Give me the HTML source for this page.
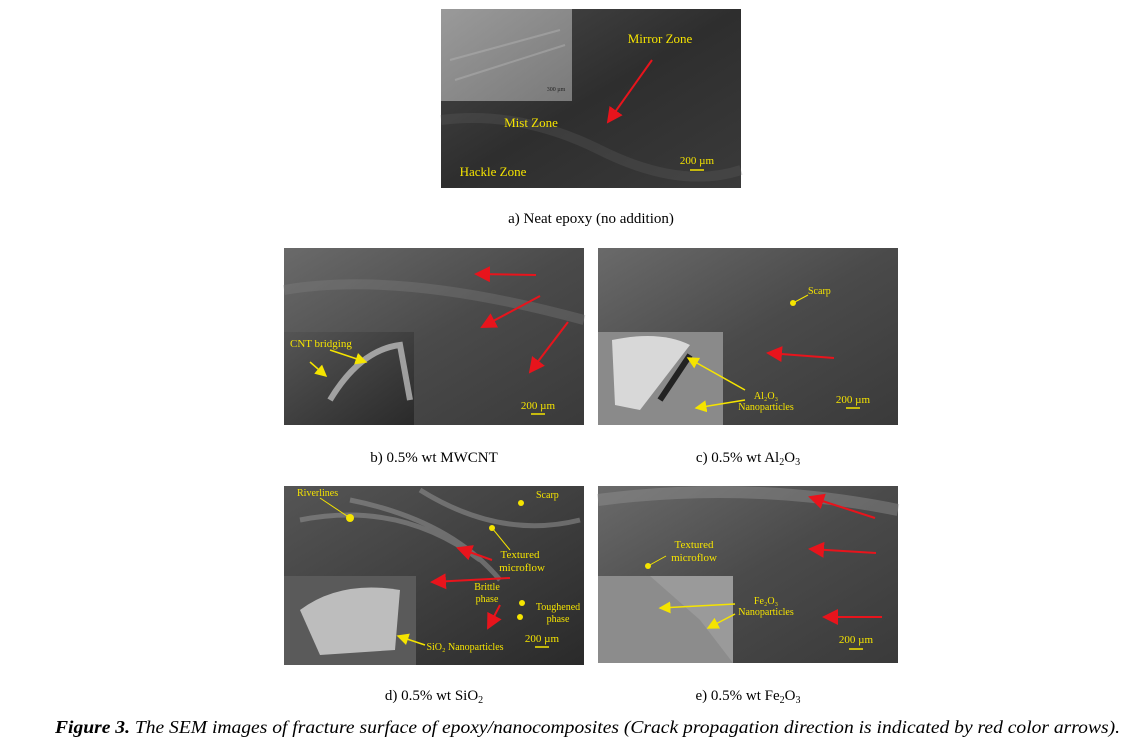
<!DOCTYPE html>
<html><head><meta charset="utf-8"><style>
html,body{margin:0;padding:0;background:#fff;}
svg{display:block;}
text{font-family:"Liberation Serif",serif;}
</style></head><body>
<svg width="1132" height="750" viewBox="0 0 1132 750" xmlns="http://www.w3.org/2000/svg">
<defs>
<linearGradient id="ga" x1="0" y1="0" x2="1" y2="1"><stop offset="0" stop-color="#4a4a4a"/><stop offset="0.5" stop-color="#2e2e2e"/><stop offset="1" stop-color="#3a3a3a"/></linearGradient>
<linearGradient id="gb" x1="0" y1="0" x2="1" y2="1"><stop offset="0" stop-color="#6a6a6a"/><stop offset="0.5" stop-color="#4a4a4a"/><stop offset="1" stop-color="#3a3a3a"/></linearGradient>
<linearGradient id="gi" x1="0" y1="0" x2="1" y2="1"><stop offset="0" stop-color="#9a9a9a"/><stop offset="1" stop-color="#7a7a7a"/></linearGradient>
<linearGradient id="gd" x1="0" y1="0" x2="1" y2="1"><stop offset="0" stop-color="#555"/><stop offset="1" stop-color="#2a2a2a"/></linearGradient>
<marker id="ar" markerWidth="8" markerHeight="8" refX="7" refY="4" orient="auto"><path d="M0,0 L8,4 L0,8 z" fill="#e8141c"/></marker>
<marker id="ay" markerWidth="8" markerHeight="8" refX="7" refY="4" orient="auto"><path d="M0,0 L8,4 L0,8 z" fill="#f5e400"/></marker>
</defs>

<!-- a -->
<rect x="441" y="9" width="300" height="179" fill="url(#ga)"/>
<path d="M441 120 Q520 110 600 150 T741 170" stroke="#666" stroke-width="10" fill="none" opacity="0.25"/>
<rect x="441" y="9" width="131" height="92" fill="url(#gi)"/>
<path d="M450 60 L560 30 M455 80 L565 45" stroke="#bbb" stroke-width="2" opacity="0.4"/>
<text x="660" y="43" fill="#f5e400" font-size="13" text-anchor="middle">Mirror Zone</text>
<text x="531" y="127" fill="#f5e400" font-size="13" text-anchor="middle">Mist Zone</text>
<text x="493" y="176" fill="#f5e400" font-size="13" text-anchor="middle">Hackle Zone</text>
<text x="697" y="164" fill="#f5e400" font-size="11" text-anchor="middle">200 µm</text>
<path d="M690 170 H704" stroke="#f5e400" stroke-width="1.5"/>
<text x="556" y="91" fill="#222" font-size="6" text-anchor="middle">300 µm</text>
<line x1="652" y1="60" x2="608" y2="122" stroke="#e8141c" stroke-width="2" marker-end="url(#ar)"/>
<text x="591" y="223" font-size="15" text-anchor="middle">a) Neat epoxy (no addition)</text>

<!-- b -->
<rect x="284" y="248" width="300" height="177" fill="url(#gb)"/>
<path d="M284 290 Q400 270 584 320" stroke="#888" stroke-width="10" fill="none" opacity="0.3"/>
<rect x="284" y="332" width="130" height="93" fill="url(#gd)"/>
<path d="M330 400 Q360 350 400 345 L410 400" stroke="#ccc" stroke-width="6" fill="none" opacity="0.7"/>
<text x="290" y="347" fill="#f5e400" font-size="11">CNT bridging</text>
<line x1="330" y1="350" x2="366" y2="362" stroke="#f5e400" stroke-width="1.5" marker-end="url(#ay)"/>
<line x1="310" y1="362" x2="326" y2="376" stroke="#f5e400" stroke-width="1.5" marker-end="url(#ay)"/>
<line x1="536" y1="275" x2="476" y2="274" stroke="#e8141c" stroke-width="2" marker-end="url(#ar)"/>
<line x1="540" y1="296" x2="482" y2="327" stroke="#e8141c" stroke-width="2" marker-end="url(#ar)"/>
<line x1="568" y1="322" x2="530" y2="372" stroke="#e8141c" stroke-width="2" marker-end="url(#ar)"/>
<text x="538" y="409" fill="#f5e400" font-size="11" text-anchor="middle">200 µm</text>
<path d="M531 414 H545" stroke="#f5e400" stroke-width="1.5"/>
<text x="434" y="462" font-size="15" text-anchor="middle">b) 0.5% wt MWCNT</text>

<!-- c -->
<rect x="598" y="248" width="300" height="177" fill="url(#gb)"/>
<rect x="598" y="332" width="125" height="93" fill="#8a8a8a"/>
<path d="M612 340 Q660 330 690 345 L640 410 L615 405 Z" fill="#d8d8d8"/>
<path d="M690 355 L660 400" stroke="#222" stroke-width="6"/>
<circle cx="793" cy="303" r="3" fill="#f5e400"/><line x1="793" y1="303" x2="808" y2="295" stroke="#f5e400"/>
<text x="808" y="294" fill="#f5e400" font-size="10">Scarp</text>
<line x1="834" y1="358" x2="768" y2="353" stroke="#e8141c" stroke-width="2" marker-end="url(#ar)"/>
<text x="766" y="399" fill="#f5e400" font-size="10" text-anchor="middle">Al₂O₃</text>
<text x="766" y="410" fill="#f5e400" font-size="10" text-anchor="middle">Nanoparticles</text>
<line x1="745" y1="390" x2="688" y2="358" stroke="#f5e400" stroke-width="1.5" marker-end="url(#ay)"/>
<line x1="745" y1="400" x2="696" y2="408" stroke="#f5e400" stroke-width="1.5" marker-end="url(#ay)"/>
<text x="853" y="403" fill="#f5e400" font-size="11" text-anchor="middle">200 µm</text>
<path d="M846 408 H860" stroke="#f5e400" stroke-width="1.5"/>
<text x="748" y="462" font-size="15" text-anchor="middle">c) 0.5% wt Al<tspan font-size="10" dy="3">2</tspan><tspan dy="-3">O</tspan><tspan font-size="10" dy="3">3</tspan></text>

<!-- d -->
<rect x="284" y="486" width="300" height="179" fill="url(#gd)"/>
<path d="M300 520 Q400 500 480 560 M350 500 Q450 520 500 580 M420 490 Q500 540 580 520" stroke="#999" stroke-width="5" fill="none" opacity="0.5"/>
<rect x="284" y="576" width="132" height="89" fill="#5a5a5a"/>
<path d="M300 610 Q340 580 400 590 L395 650 L320 655 Z" fill="#bdbdbd"/>
<text x="297" y="496" fill="#f5e400" font-size="10">Riverlines</text>
<circle cx="350" cy="518" r="4" fill="#f5e400"/><line x1="320" y1="498" x2="350" y2="518" stroke="#f5e400"/>
<circle cx="521" cy="503" r="3" fill="#f5e400"/>
<text x="536" y="498" fill="#f5e400" font-size="10">Scarp</text>
<circle cx="492" cy="528" r="3" fill="#f5e400"/><line x1="492" y1="528" x2="510" y2="550" stroke="#f5e400"/>
<text x="520" y="558" fill="#f5e400" font-size="11" text-anchor="middle">Textured</text>
<text x="522" y="571" fill="#f5e400" font-size="11" text-anchor="middle">microflow</text>
<line x1="492" y1="560" x2="458" y2="548" stroke="#e8141c" stroke-width="2" marker-end="url(#ar)"/>
<line x1="510" y1="578" x2="432" y2="582" stroke="#e8141c" stroke-width="2" marker-end="url(#ar)"/>
<line x1="500" y1="605" x2="488" y2="628" stroke="#e8141c" stroke-width="2" marker-end="url(#ar)"/>
<text x="487" y="590" fill="#f5e400" font-size="10" text-anchor="middle">Brittle</text>
<text x="487" y="602" fill="#f5e400" font-size="10" text-anchor="middle">phase</text>
<circle cx="522" cy="603" r="3" fill="#f5e400"/>
<circle cx="520" cy="617" r="3" fill="#f5e400"/>
<text x="558" y="610" fill="#f5e400" font-size="10" text-anchor="middle">Toughened</text>
<text x="558" y="622" fill="#f5e400" font-size="10" text-anchor="middle">phase</text>
<text x="542" y="642" fill="#f5e400" font-size="11" text-anchor="middle">200 µm</text>
<path d="M535 647 H549" stroke="#f5e400" stroke-width="1.5"/>
<text x="465" y="650" fill="#f5e400" font-size="10" text-anchor="middle">SiO₂ Nanoparticles</text>
<line x1="425" y1="645" x2="398" y2="636" stroke="#f5e400" stroke-width="1.5" marker-end="url(#ay)"/>
<text x="434" y="700" font-size="15" text-anchor="middle">d) 0.5% wt SiO<tspan font-size="10" dy="3">2</tspan></text>

<!-- e -->
<rect x="598" y="486" width="300" height="177" fill="url(#gb)"/>
<path d="M598 500 Q750 480 898 510" stroke="#999" stroke-width="12" fill="none" opacity="0.4"/>
<rect x="598" y="576" width="135" height="87" fill="#9a9a9a"/>
<path d="M598 576 L650 576 L700 620 L733 663 L598 663 Z" fill="#7e7e7e" opacity="0.5"/>
<line x1="875" y1="518" x2="810" y2="497" stroke="#e8141c" stroke-width="2" marker-end="url(#ar)"/>
<line x1="876" y1="553" x2="810" y2="549" stroke="#e8141c" stroke-width="2" marker-end="url(#ar)"/>
<line x1="882" y1="617" x2="824" y2="617" stroke="#e8141c" stroke-width="2" marker-end="url(#ar)"/>
<text x="694" y="548" fill="#f5e400" font-size="11" text-anchor="middle">Textured</text>
<text x="694" y="561" fill="#f5e400" font-size="11" text-anchor="middle">microflow</text>
<circle cx="648" cy="566" r="3" fill="#f5e400"/><line x1="648" y1="566" x2="666" y2="556" stroke="#f5e400"/>
<text x="766" y="604" fill="#f5e400" font-size="10" text-anchor="middle">Fe₂O₃</text>
<text x="766" y="615" fill="#f5e400" font-size="10" text-anchor="middle">Nanoparticles</text>
<line x1="735" y1="604" x2="660" y2="608" stroke="#f5e400" stroke-width="1.5" marker-end="url(#ay)"/>
<line x1="735" y1="614" x2="708" y2="628" stroke="#f5e400" stroke-width="1.5" marker-end="url(#ay)"/>
<text x="856" y="643" fill="#f5e400" font-size="11" text-anchor="middle">200 µm</text>
<path d="M849 649 H863" stroke="#f5e400" stroke-width="1.5"/>
<text x="748" y="700" font-size="15" text-anchor="middle">e) 0.5% wt Fe<tspan font-size="10" dy="3">2</tspan><tspan dy="-3">O</tspan><tspan font-size="10" dy="3">3</tspan></text>

<text x="55" y="733" font-size="18" font-style="italic" textLength="1065" lengthAdjust="spacingAndGlyphs"><tspan font-weight="bold">Figure 3.</tspan> The SEM images of fracture surface of epoxy/nanocomposites (Crack propagation direction is indicated by red color arrows).</text>
</svg>
</body></html>
